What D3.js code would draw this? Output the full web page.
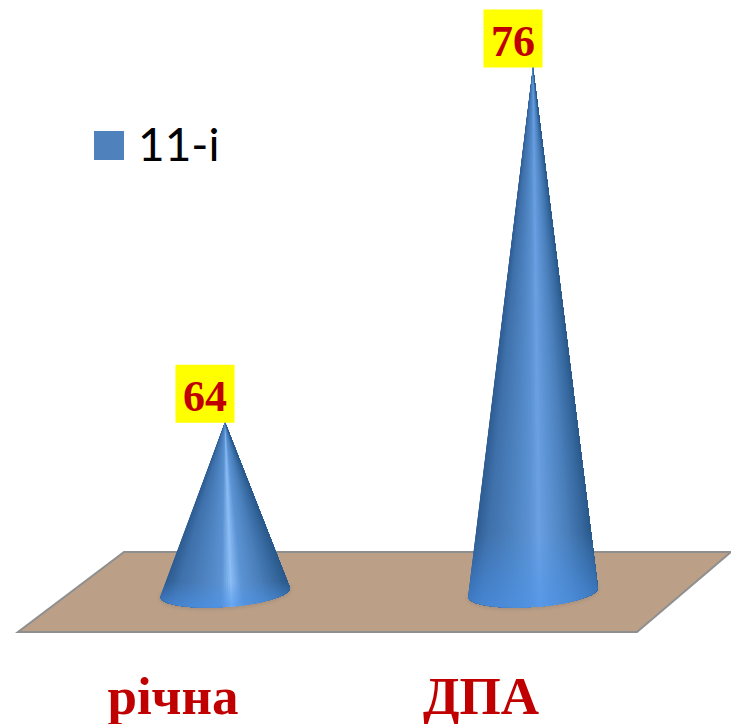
<!DOCTYPE html>
<html>
<head>
<meta charset="utf-8">
<script src="https://cdn.jsdelivr.net/npm/d3@7"></script>
<style>
  html, body { margin: 0; padding: 0; background: #fff; }
  svg { display: block; }
</style>
</head>
<body>
<svg id="chart" width="731" height="724"></svg>
<script>
const categories = ["річна", "ДПА"];
const seriesName = "11-і";
const values = [64, 76];
const axisMin = 58.25;
const highlights = ["#8cbef6", "#6ba0e2"];

const svg = d3.select("#chart");

// Scales
const xScale = d3.scaleBand().domain(categories).range([71, 687]);
const yScale = d3.scaleLinear().domain([axisMin, 76]).range([592.5, 67]);

const baseY = yScale(axisMin);
const [xLeft, xRight] = xScale.range();
const coneRx = xScale.bandwidth() * 0.2115;
const coneRy = 14.5;
const tilt = -4 * Math.PI / 180;
const centerX = (d) => xScale(d) + xScale.bandwidth() / 2;

// Floor
const floorLine = d3.line();
const backY = baseY - 40.5, frontY = baseY + 39.5;
svg.append("path")
  .attr("d", floorLine([
    [xLeft + 53, backY], [xRight + 44, backY],
    [xRight - 50, frontY], [xLeft - 53, frontY]
  ]) + "Z")
  .attr("fill", "#bb9f87");
svg.append("path")
  .attr("d", floorLine([
    [xRight + 44, backY], [xLeft + 53, backY],
    [xLeft - 53, frontY], [xRight - 50, frontY], [xRight + 44, backY]
  ]))
  .attr("fill", "none")
  .attr("stroke", "#8f8f8f")
  .attr("stroke-width", 2);

// Point on the front edge of the tilted base, a goes from pi (left) to 0 (right)
function basePoint(cx, a) {
  const ex = coneRx * Math.cos(a), ey = coneRy * Math.sin(a);
  return [cx + ex * Math.cos(tilt) - ey * Math.sin(tilt),
          baseY + ex * Math.sin(tilt) + ey * Math.cos(tilt)];
}

// Soft glow under the bases
const defs = svg.append("defs");
defs.append("filter").attr("id", "blur")
  .append("feGaussianBlur").attr("stdDeviation", 2);

// Fades the bottom of a cone into a brighter blue
const fade = defs.append("linearGradient").attr("id", "bottom-glow")
  .attr("x1", 0).attr("y1", 0).attr("x2", 0).attr("y2", 1);
fade.append("stop").attr("offset", 0.86).attr("stop-color", "#4a93ec").attr("stop-opacity", 0);
fade.append("stop").attr("offset", 1).attr("stop-color", "#4a93ec").attr("stop-opacity", 0.6);

const slices = d3.range(0, 90);
const angle = d3.scaleLinear().domain([0, 90]).range([Math.PI, 0]);

categories.forEach((c, i) => {
  const cx = centerX(c);
  const apex = [cx, yScale(values[i])];
  const shade = d3.scaleLinear()
    .domain([0, 0.1, 0.35, 0.47, 0.55, 0.64, 0.8, 0.93, 1])
    .range(["#2f5d92", "#3f70aa", "#5086c4", "#5b92d2", highlights[i], "#5d94d4", "#4a7fbb", "#37699f", "#2b5a8c"]);
  const g = svg.append("g").attr("class", "cone");

  // shadow of the base
  g.append("ellipse")
    .attr("cx", cx).attr("cy", baseY + 1)
    .attr("rx", coneRx).attr("ry", coneRy)
    .attr("transform", `rotate(-4 ${cx} ${baseY + 1})`)
    .attr("fill", "#7d6f63")
    .attr("opacity", 0.45)
    .attr("filter", "url(#blur)");

  // each wedge runs from its own angle to the right edge and the next one paints
  // over it, so no background shows through the antialiased seams
  const outlineFrom = (s) => [apex].concat(d3.range(s, 91).map((k) => basePoint(cx, angle(k))));
  g.selectAll("path.slice")
    .data(slices)
    .enter()
    .append("path")
    .attr("class", "slice")
    .attr("d", (s) => floorLine(outlineFrom(s)) + "Z")
    .attr("fill", (s) => shade((basePoint(cx, angle(s + 0.5))[0] - cx + coneRx) / (2 * coneRx)));

  g.append("path")
    .attr("d", floorLine(outlineFrom(0)) + "Z")
    .attr("fill", "url(#bottom-glow)");
});

// Data labels
const labels = svg.selectAll("g.value")
  .data(values)
  .enter()
  .append("g")
  .attr("class", "value");

labels.append("rect")
  .attr("x", (d, i) => centerX(categories[i]) - 49.5)
  .attr("y", (d) => yScale(d) - 57.5)
  .attr("width", 59)
  .attr("height", 58)
  .attr("fill", "#ffff00");

labels.append("text")
  .attr("x", (d, i) => centerX(categories[i]) - 20)
  .attr("y", (d) => yScale(d) - 11.5)
  .attr("text-anchor", "middle")
  .attr("font-family", "'Liberation Serif', serif")
  .attr("font-weight", "bold")
  .attr("font-size", 44)
  .attr("fill", "#c00000")
  .text((d) => d);

// Category labels
svg.selectAll("text.category")
  .data(categories)
  .enter()
  .append("text")
  .attr("class", "category")
  .attr("x", (d) => centerX(d) - 52)
  .attr("y", 714)
  .attr("text-anchor", "middle")
  .attr("font-family", "'Liberation Serif', serif")
  .attr("font-weight", "bold")
  .attr("font-size", 53)
  .attr("fill", "#c00000")
  .text((d) => d);

// Legend
svg.append("rect")
  .attr("x", 94).attr("y", 131)
  .attr("width", 30).attr("height", 29)
  .attr("fill", "#4f81bd");
svg.append("text")
  .attr("x", 138).attr("y", 161)
  .attr("font-family", "Lato, 'Open Sans', sans-serif")
  .attr("font-size", 46)
  .attr("fill", "#000")
  .text(seriesName);
</script>
</body>
</html>
